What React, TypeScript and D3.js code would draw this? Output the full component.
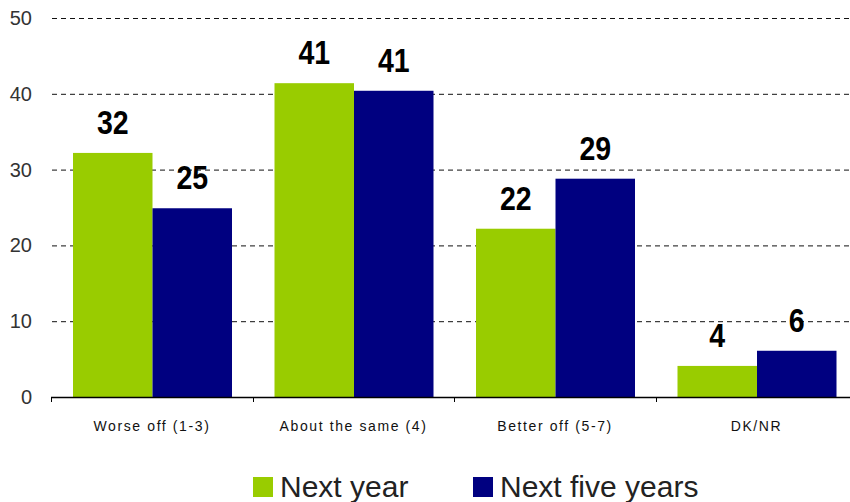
import { useEffect, useRef } from "react";
import { select, scaleBand, scaleLinear } from "d3";

const categories = ["Worse off (1-3)", "About the same (4)", "Better off (5-7)", "DK/NR"];
const seriesNames = ["Next year", "Next five years"];
const nextYear = [32.2, 41.4, 22.2, 4.1];
const nextFive = [24.9, 40.4, 28.8, 6.1];
const nextYearLabels = ["32", "41", "22", "4"];
const nextFiveLabels = ["25", "41", "29", "6"];
const yTicks = [0, 10, 20, 30, 40, 50];
const colors = ["#99CC00", "#000080"];

const drawChart = (ref: SVGSVGElement) => {
  const svg = select(ref);
  svg.selectAll("*").remove();

  const x0 = scaleBand().domain(categories).range([51, 857]);
  const x1 = scaleBand().domain(seriesNames).range([22, 181]);
  const y = scaleLinear().domain([0, 50]).range([397, 18]);

  // gridlines
  svg
    .append("g")
    .selectAll("line")
    .data(yTicks.filter((t) => t > 0))
    .join("line")
    .attr("x1", 52)
    .attr("x2", 850)
    .attr("y1", (d) => y(d) + 0.5)
    .attr("y2", (d) => y(d) + 0.5)
    .attr("stroke", "#111")
    .attr("stroke-dasharray", "5,4");

  // y tick labels
  svg
    .append("g")
    .selectAll("text")
    .data(yTicks)
    .join("text")
    .attr("x", 32)
    .attr("y", (d) => y(d) + 7)
    .attr("text-anchor", "end")
    .attr("font-family", "Arial, 'Liberation Sans', sans-serif")
    .attr("font-size", 20)
    .attr("fill", "#333")
    .text((d) => d);

  const series = [
    { name: seriesNames[0], values: nextYear, labels: nextYearLabels },
    { name: seriesNames[1], values: nextFive, labels: nextFiveLabels },
  ];

  series.forEach((s, si) => {
    const g = svg.append("g");
    g.selectAll("rect")
      .data(s.values)
      .join("rect")
      .attr("x", (d, i) => (x0(categories[i]) as number) + (x1(s.name) as number))
      .attr("y", (d) => y(d))
      .attr("width", x1.bandwidth())
      .attr("height", (d) => y(0) - y(d))
      .attr("fill", colors[si]);

    g.selectAll("text")
      .data(s.values)
      .join("text")
      .attr(
        "transform",
        (d, i) =>
          `translate(${(x0(categories[i]) as number) + (x1(s.name) as number) + x1.bandwidth() / 2},${
            y(d) - 19
          }) scale(0.95,1.12)`
      )
      .attr("text-anchor", "middle")
      .attr("font-family", "Arial, 'Liberation Sans', sans-serif")
      .attr("font-weight", "bold")
      .attr("font-size", 30)
      .attr("fill", "#000")
      .text((d, i) => s.labels[i]);
  });

  // x axis
  svg
    .append("line")
    .attr("x1", 51)
    .attr("x2", 850)
    .attr("y1", 397.5)
    .attr("y2", 397.5)
    .attr("stroke", "#000")
    .attr("stroke-width", 1.5);

  svg
    .append("g")
    .selectAll("line")
    .data(categories)
    .join("line")
    .attr("x1", (d) => Math.round(x0(d) as number) + 0.5)
    .attr("x2", (d) => Math.round(x0(d) as number) + 0.5)
    .attr("y1", 397)
    .attr("y2", 402)
    .attr("stroke", "#000");

  svg
    .append("g")
    .selectAll("text")
    .data(categories)
    .join("text")
    .attr("x", (d) => (x0(d) as number) + 101)
    .attr("y", 431)
    .attr("text-anchor", "middle")
    .attr("font-family", "Arial, 'Liberation Sans', sans-serif")
    .attr("font-size", 14)
    .attr("letter-spacing", 1.6)
    .attr("fill", "#111")
    .text((d) => d);

  // legend
  const legendX = [253, 473];
  const lg = svg
    .append("g")
    .selectAll("g")
    .data(seriesNames)
    .join("g")
    .attr("transform", (d, i) => `translate(${legendX[i]},477)`);
  lg.append("rect")
    .attr("width", 20)
    .attr("height", 20)
    .attr("fill", (d, i) => colors[i]);
  lg.append("text")
    .attr("x", 27)
    .attr("y", 20)
    .attr("font-family", "Arial, 'Liberation Sans', sans-serif")
    .attr("font-size", 30)
    .attr("fill", "#222")
    .text((d) => d);
};

export default function App() {
  const ref = useRef<SVGSVGElement>(null);
  useEffect(() => {
    if (ref.current) drawChart(ref.current);
  }, []);
  return (
    <svg
      ref={ref}
      width={850}
      height={502}
      style={{ position: "absolute", left: 0, top: 0, background: "#fff" }}
    />
  );
}
